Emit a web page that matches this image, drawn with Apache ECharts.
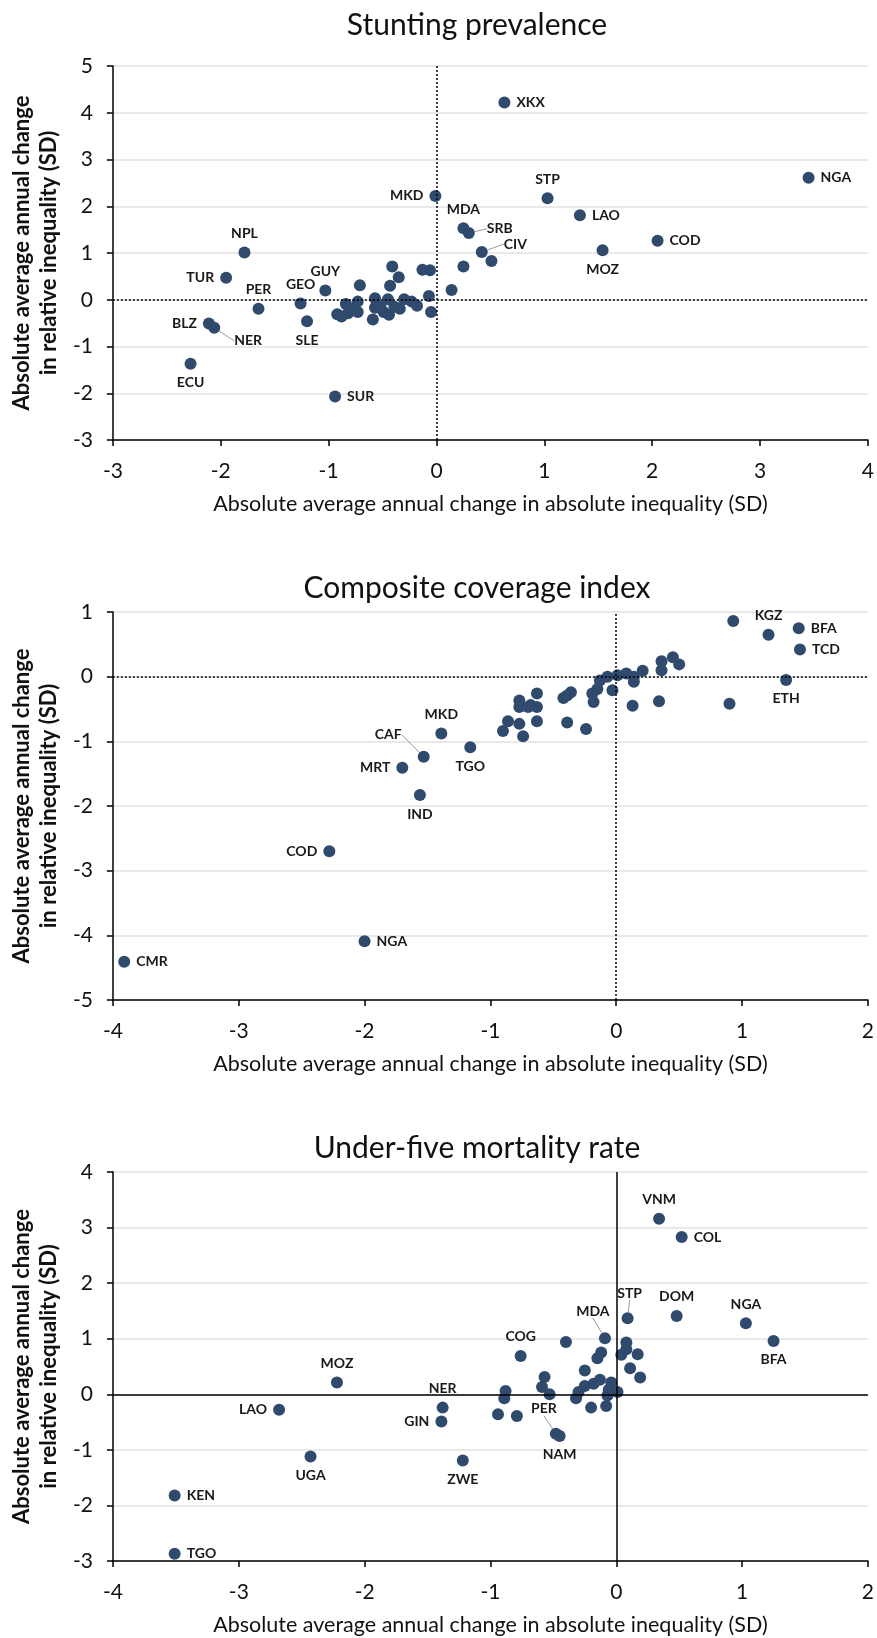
<!DOCTYPE html>
<html>
<head>
<meta charset="utf-8">
<script src="https://cdn.jsdelivr.net/npm/echarts@6/dist/echarts.min.js"></script>
<style>
html,body{margin:0;padding:0;background:#fff;}
#c{width:877px;height:1638px;}
</style>
</head>
<body>
<div id="c"></div>
<script>
// ---------- Data ----------
const titles = ['Stunting prevalence', 'Composite coverage index', 'Under-five mortality rate'];
const xAxisName = 'Absolute average annual change in absolute inequality (SD)';
const yAxisName = 'Absolute average annual change\nin relative inequality (SD)';

// Panel 1: Stunting prevalence
const p1x = [0.63, 3.45, 1.03, 1.33, 2.05, 1.54, -0.01, 0.25, 0.30, 0.42, 0.51, 0.25, 0.14,
  -1.78, -1.95, -1.65, -1.26, -1.20, -1.03, -2.11, -2.06, -2.28, -0.94,
  -0.41, -0.35, -0.43, -0.71, -0.13, -0.06, -0.07, -0.05, -0.57, -0.45, -0.30, -0.23, -0.18,
  -0.84, -0.73, -0.92, -0.88, -0.82, -0.73, -0.59, -0.57, -0.49, -0.44, -0.39, -0.34, -0.52, -0.78];
const p1y = [4.22, 2.61, 2.17, 1.81, 1.26, 1.06, 2.22, 1.53, 1.43, 1.02, 0.83, 0.71, 0.21,
  1.01, 0.47, -0.19, -0.08, -0.46, 0.20, -0.51, -0.60, -1.37, -2.07,
  0.71, 0.48, 0.30, 0.31, 0.64, 0.63, 0.08, -0.26, 0.03, 0.01, 0.01, -0.04, -0.13,
  -0.09, -0.04, -0.31, -0.36, -0.29, -0.26, -0.42, -0.17, -0.26, -0.32, -0.15, -0.19, -0.15, -0.19];
const p1lab = ['XKX', 'NGA', 'STP', 'LAO', 'COD', 'MOZ', 'MKD', 'MDA', 'SRB', 'CIV', '', '', '',
  'NPL', 'TUR', 'PER', 'GEO', 'SLE', 'GUY', 'BLZ', 'NER', 'ECU', 'SUR'];

// Panel 2: Composite coverage index
const p2x = [-3.91, -2.00, -2.28, -1.56, -1.70, -1.53, -1.39, -1.16, 0.93, 1.21, 1.45, 1.46, 1.35,
  0.90, 0.34, 0.13, -0.03, 0.36, 0.45, 0.50, 0.36, 0.21, 0.14, 0.14, 0.08, 0.01, -0.07, -0.13,
  -0.15, -0.19, -0.18, -0.36, -0.39, -0.42, -0.39, -0.24, -0.63, -0.63, -0.68, -0.77, -0.77,
  -0.63, -0.77, -0.74, -0.86, -0.90, -0.70];
const p2y = [-4.41, -4.09, -2.70, -1.83, -1.41, -1.24, -0.88, -1.09, 0.86, 0.65, 0.75, 0.42, -0.05,
  -0.42, -0.38, -0.45, -0.21, 0.24, 0.30, 0.19, 0.10, 0.09, -0.08, 0.00, 0.05, 0.02, 0.00, -0.06,
  -0.19, -0.26, -0.39, -0.24, -0.29, -0.33, -0.71, -0.81, -0.26, -0.47, -0.44, -0.37, -0.47,
  -0.69, -0.73, -0.92, -0.69, -0.84, -0.47];
const p2lab = ['CMR', 'NGA', 'COD', 'IND', 'MRT', 'CAF', 'MKD', 'TGO', '', 'KGZ', 'BFA', 'TCD', 'ETH'];

// Panel 3: Under-five mortality rate
const p3x = [-3.51, -3.51, -2.68, -2.22, -2.43, -1.38, -1.39, -1.22, 0.34, 0.52, 0.48, 1.03, 1.25,
  0.09, -0.09, -0.76, -0.48, -0.45,
  -0.94, -0.40, -0.12, -0.15, 0.08, 0.08, 0.04, 0.17, 0.11, 0.19, -0.25, -0.57, -0.59, -0.53,
  -0.88, -0.89, -0.79, -0.20, -0.08, -0.32, -0.30, -0.25, -0.18, -0.13, -0.04, -0.06, -0.07, 0.01];
const p3y = [-1.82, -2.87, -0.28, 0.21, -1.12, -0.24, -0.49, -1.19, 3.16, 2.83, 1.41, 1.28, 0.96,
  1.37, 1.01, 0.69, -0.71, -0.75,
  -0.36, 0.94, 0.75, 0.65, 0.93, 0.81, 0.71, 0.72, 0.47, 0.30, 0.43, 0.31, 0.13, 0.00,
  0.06, -0.07, -0.39, -0.24, -0.21, -0.07, 0.04, 0.15, 0.19, 0.26, 0.21, 0.08, -0.02, 0.04];
const p3lab = ['KEN', 'TGO', 'LAO', 'MOZ', 'UGA', 'NER', 'GIN', 'ZWE', 'VNM', 'COL', 'DOM', 'NGA', 'BFA',
  'STP', 'MDA', 'COG', 'PER', 'NAM'];

// Axis ranges
const xRanges = [[-3, 4], [-4, 2], [-4, 2]];
const yRanges = [[-3, 5], [-5, 1], [-3, 4]];

// ---------- Styling (label placement) ----------
const labelPos = [
  {XKX:'right', NGA:'right', STP:'top', LAO:'right', COD:'right', MOZ:'bottom', MKD:'left', MDA:'top',
   SRB:'right', CIV:'right', NPL:'top', TUR:'left', PER:'top', GEO:'top', SLE:'bottom', GUY:'top',
   BLZ:'left', NER:'right', ECU:'bottom', SUR:'right'},
  {CMR:'right', NGA:'right', COD:'left', IND:'bottom', MRT:'left', CAF:'left', MKD:'top', TGO:'bottom',
   KGZ:'top', BFA:'right', TCD:'right', ETH:'bottom'},
  {KEN:'right', TGO:'right', LAO:'left', MOZ:'top', UGA:'bottom', NER:'top', GIN:'left', ZWE:'bottom',
   VNM:'top', COL:'right', DOM:'top', NGA:'top', BFA:'bottom', STP:'top', MDA:'top', COG:'top',
   PER:'top', NAM:'bottom'}
];
const leaderShift = [
  {NER:[8, 13], SRB:[6, -4], CIV:[10, -8]},
  {CAF:[-10, -22]},
  {STP:[2, -6], MDA:[-12, -8], PER:[-12, -6]}
];

const grids = [
  {left:109, top:66, width:760, height:374},
  {left:109, top:612, width:760, height:388},
  {left:113, top:1172, width:756, height:389}
];
const titleY = [25, 588, 1148];
const titleX = 477;

const markerColor = '#2f4a6d';
const FONT = 'Lato';

function buildSeries(i, xs, ys, labs, solidZero) {
  const pos = labelPos[i];
  const shifts = leaderShift[i];
  const data = xs.map((x, k) => {
    const name = labs[k] || '';
    const item = {value:[x, ys[k]], name:name};
    if (name) {
      item.label = {show:true, position:pos[name] || 'right'};
      if (shifts[name]) item.labelLine = {show:true};
    }
    return item;
  });
  return {
    type:'scatter',
    xAxisIndex:i, yAxisIndex:i,
    symbolSize:12,
    itemStyle:{color:markerColor, opacity:1},
    label:{show:false, formatter:'{b}', fontFamily:FONT, fontWeight:'bold', fontSize:14, color:'#1a1a1a', distance:6},
    labelLine:{show:false, lineStyle:{color:'#9a9a9a', width:1}},
    labelLayout:function(p){
      const s = shifts[p.text];
      return s ? {dx:s[0], dy:s[1]} : {};
    },
    data:data,
    z:3,
    markLine:{
      silent:true, symbol:'none', animation:false,
      label:{show:false},
      lineStyle:{color:'#000', width:1.5, type: solidZero ? 'solid' : [2, 2]},
      data:[{xAxis:0}, {yAxis:0}]
    }
  };
}

const xAxes = [], yAxes = [];
for (let i = 0; i < 3; i++) {
  xAxes.push({
    gridIndex:i, type:'value', min:xRanges[i][0], max:xRanges[i][1], interval:1,
    axisLine:{show:true, onZero:false, lineStyle:{color:'#000', width:1.5}},
    axisTick:{show:true, length:6, lineStyle:{color:'#000', width:1.5}},
    splitLine:{show:false},
    axisLabel:{fontSize:21, color:'#111', margin:21, fontFamily:FONT},
    name:xAxisName, nameLocation:'middle', nameGap:53,
    nameTextStyle:{fontSize:21.5, fontFamily:FONT, color:'#111'}
  });
  yAxes.push({
    gridIndex:i, type:'value', min:yRanges[i][0], max:yRanges[i][1], interval:1,
    axisLine:{show:true, onZero:false, lineStyle:{color:'#000', width:1.5}},
    axisTick:{show:true, length:6, lineStyle:{color:'#000', width:1.5}},
    splitLine:{show:true, lineStyle:{color:'#e2e2e2', width:1.5}},
    axisLabel:{fontSize:21, color:'#111', margin:20, fontFamily:FONT},
    name:yAxisName, nameLocation:'middle', nameGap:45,
    nameTextStyle:{fontSize:22, fontFamily:FONT, fontWeight:'bold', color:'#111', lineHeight:27}
  });
}

const chart = echarts.init(document.getElementById('c'), null, {renderer:'canvas'});
chart.setOption({
  animation:false,
  backgroundColor:'#fff',
  grid:grids,
  xAxis:xAxes,
  yAxis:yAxes,
  graphic:titles.map((t, i) => ({
    type:'text', x:titleX, y:titleY[i],
    style:{text:t, font:'30px ' + FONT, fill:'#111', align:'center', verticalAlign:'middle',
           textAlign:'center', textVerticalAlign:'middle'},
    silent:true
  })),
  series:[
    buildSeries(0, p1x, p1y, p1lab, false),
    buildSeries(1, p2x, p2y, p2lab, false),
    buildSeries(2, p3x, p3y, p3lab, true)
  ]
});
</script>
</body>
</html>
